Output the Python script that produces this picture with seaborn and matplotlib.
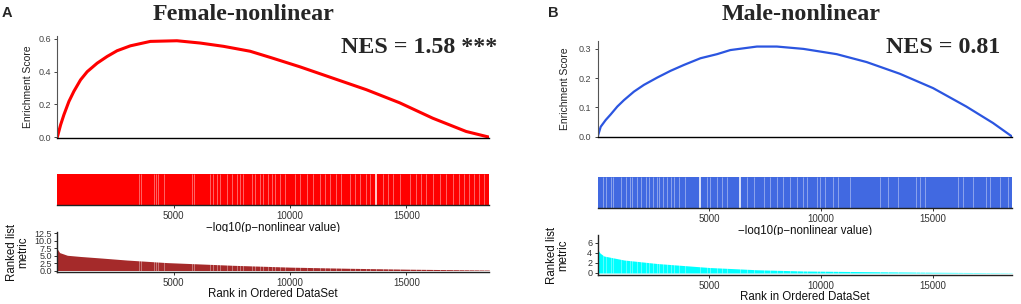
import numpy as np
import pandas as pd
import seaborn as sns
import matplotlib.pyplot as plt

# number of genes in the ranked list
n_genes = 18560

# running enrichment score (rank, ES)
female_es_rank = [0, 141, 284, 498, 712, 998, 1284, 1712, 2141, 2569, 3140, 3997, 5139,
                  6139, 7138, 8281, 9200, 10420, 11850, 13280, 14710, 16130, 17565, 18560]
female_es = [0, 0.075, 0.137, 0.218, 0.28, 0.35, 0.40, 0.452, 0.493, 0.528, 0.558, 0.585,
             0.589, 0.575, 0.555, 0.525, 0.485, 0.43, 0.36, 0.29, 0.21, 0.116, 0.035, 0.0]

male_es_rank = [0, 134, 357, 580, 878, 1176, 1622, 2068, 2664, 3259, 3854, 4598, 5342,
                5937, 7128, 8021, 9211, 10699, 12039, 13526, 15014, 16503, 17693, 18560]
male_es = [0, 0.034, 0.057, 0.076, 0.103, 0.125, 0.154, 0.177, 0.202, 0.225, 0.245, 0.268,
           0.282, 0.296, 0.308, 0.308, 0.3, 0.282, 0.255, 0.215, 0.166, 0.103, 0.047, 0.0]

# ranked list metric
female_metric_rank = [0, 100, 430, 1000, 1860, 3000, 4710, 7570, 10000, 12500, 15000, 18560]
female_metric = [7.2, 6.0, 5.1, 4.7, 4.2, 3.5, 2.65, 1.74, 1.13, 0.75, 0.45, 0.15]
male_metric_rank = [0, 100, 280, 1180, 2660, 5000, 7130, 9210, 12500, 15000, 18560]
male_metric = [4.7, 4.0, 3.4, 2.6, 1.9, 1.1, 0.65, 0.4, 0.25, 0.15, 0.05]

# ranks without hits (white lines in the barcode)
female_gaps = [3496, 3599, 4138, 4254, 4310, 4597, 5783, 5882, 6568, 6709, 6855, 6996,
               7283, 7497, 7711, 7853, 7994, 8354, 8495, 8710, 8851, 9065, 9211, 9352,
               9566, 9780, 10208, 10423, 10710, 10993, 11280, 11494, 11708, 11995,
               12209, 12567, 12781, 12995, 13280, 13422, 13992, 14206, 14420, 14707,
               15136, 15423, 15637, 15851, 16134, 16421, 16708, 16990, 17278, 17492,
               17706, 17920, 18134, 18348]
female_gaps_strong = [13709]
male_gaps = [253, 357, 610, 699, 1027, 1250, 1443, 1547, 1770, 1920, 2143, 2292, 2485,
             2634, 2738, 2932, 3080, 3259, 3408, 3631, 3928, 4896, 5044, 5343, 5566,
             5789, 6682, 6980, 7424, 7723, 8022, 8316, 8615, 8913, 9210, 9361, 9808,
             9955, 10178, 10550, 10773, 11294, 12633, 13005, 13450, 14271, 14419,
             14642, 16129, 16352, 16798, 17396, 17544, 17990, 18361]
male_gaps_strong = [4598, 6384]

x_ticks = [5000, 10000, 15000]

sns.set_style("ticks")
plt.rcParams['font.family'] = ['Liberation Sans', 'DejaVu Sans']

W, H = 1021, 304
fig = plt.figure(figsize=(W / 100, H / 100), dpi=100)


def ax_px(l, t, r, b):
    return fig.add_axes([l / W, 1 - b / H, (r - l) / W, (b - t) / H])


def draw_panel(x0, x1, tops, es_rank, es, es_top, es_ticks, line_col, line_w,
               bar_col, gaps, gaps_strong, m_rank, metric, m_lim, m_ticks, m_fmt, m_col,
               letter, letter_x, title, title_x, nes, nes_x, ylab_x, mlab_x):
    es_t, es_b, bar_t, bar_b, m_t, m_b = tops
    # enrichment score
    ax = ax_px(x0, es_t, x1, es_b)
    df = pd.DataFrame({'rank': es_rank, 'es': es})
    sns.lineplot(data=df, x='rank', y='es', color=line_col, lw=line_w, ax=ax)
    ax.set_xlim(0, n_genes)
    ax.set_ylim(-0.003 * es_top, es_top)
    ax.set_yticks(es_ticks)
    ax.set_yticklabels(['%.1f' % v for v in es_ticks])
    ax.set_xticks([])
    ax.set_xlabel('')
    ax.set_ylabel('')
    for s in ['top', 'right']:
        ax.spines[s].set_visible(False)
    ax.spines['left'].set_color('#555555')
    ax.spines['left'].set_linewidth(0.8)
    ax.spines['bottom'].set_color('black')
    ax.spines['bottom'].set_linewidth(1.0)
    ax.tick_params(axis='y', labelsize=6.5, colors='#444444', length=2.5, width=0.7, pad=2)
    fig.text(ylab_x / W, 1 - (es_t + es_b) / 2 / H, 'Enrichment Score', rotation=90,
             ha='center', va='center', fontsize=7.5, color='#222222')

    # barcode
    axb = ax_px(x0, bar_t, x1, bar_b)
    axb.fill_between([1, n_genes], 0, 1, color=bar_col, lw=0)
    axb.vlines(gaps, 0, 1, color='white', lw=0.6, alpha=0.45)
    axb.vlines(gaps_strong, 0, 1, color='white', lw=1.1, alpha=1)
    axb.set_xlim(0, n_genes)
    axb.set_ylim(0, 1)
    axb.set_yticks([])
    axb.set_xticks(x_ticks)
    axb.set_xticklabels([str(v) for v in x_ticks])
    for s in ['top', 'right', 'left']:
        axb.spines[s].set_visible(False)
    axb.spines['bottom'].set_color('#222222')
    axb.spines['bottom'].set_linewidth(1.0)
    axb.tick_params(axis='x', labelsize=7, colors='#333333', length=2.5, width=0.7, pad=2)
    axb.set_xlabel('\u2212log10(p\u2212nonlinear value)', fontsize=8.3, labelpad=0.5,
                   color='#111111')

    # ranked list metric
    axm = ax_px(x0, m_t, x1, m_b)
    axm.fill_between(m_rank, 0, metric, color=m_col, lw=0)
    axm.vlines(gaps + gaps_strong, 0, m_lim[1], color='white', lw=0.5, alpha=0.5)
    axm.set_xlim(0, n_genes)
    axm.set_ylim(*m_lim)
    axm.set_yticks(m_ticks)
    axm.set_yticklabels([m_fmt % v for v in m_ticks])
    axm.set_xticks(x_ticks)
    axm.set_xticklabels([str(v) for v in x_ticks])
    for s in ['top', 'right']:
        axm.spines[s].set_visible(False)
    for s in ['left', 'bottom']:
        axm.spines[s].set_color('#222222')
        axm.spines[s].set_linewidth(1.0)
    axm.tick_params(labelsize=7, colors='#333333', length=2.5, width=0.7, pad=1.5)
    axm.tick_params(axis='y', labelsize=6.5)
    axm.set_xlabel('Rank in Ordered DataSet', fontsize=8.3, labelpad=0.5, color='#111111')
    fig.text(mlab_x / W, 1 - (m_t + m_b) / 2 / H, 'Ranked list\nmetric', rotation=90,
             ha='center', va='center', fontsize=8.3, linespacing=0.95, color='#111111')

    # texts
    fig.text(letter_x / W, 1 - 13 / H, letter, fontsize=10.5, fontweight='bold',
             ha='left', va='center')
    fig.text(title_x / W, 1 - 15 / H, title, fontsize=17.3, fontweight='bold',
             family='Liberation Serif', ha='center', va='center')
    fig.text(nes_x / W, 1 - 53 / H, nes, fontsize=17.3, fontweight='bold',
             family='Liberation Serif', ha='right', va='baseline')


draw_panel(57.3, 489.3, (36, 137.5, 174, 205, 232, 272),
           female_es_rank, female_es, 0.618, [0, 0.2, 0.4, 0.6], '#FF0000', 2.2,
           '#FF0000', female_gaps, female_gaps_strong,
           female_metric_rank, female_metric, (-0.5, 12.9),
           [0.0, 2.5, 5.0, 7.5, 10.0, 12.5], '%.1f',
           '#A52A2A', 'A', 2, 'Female-nonlinear', 244, 'NES = 1.58 ***', 497, 28, 18)

draw_panel(597.7, 1012.3, (40.7, 137, 177.3, 207.7, 235, 275),
           male_es_rank, male_es, 0.328, [0, 0.1, 0.2, 0.3], '#2B55E0', 1.6,
           '#4169E1', male_gaps, male_gaps_strong,
           male_metric_rank, male_metric, (-0.4, 7.6), [0, 2, 4, 6], '%d',
           '#00FFFF', 'B', 548, 'Male-nonlinear', 801, 'NES = 0.81', 1000, 565, 558)

plt.savefig('out.png', dpi=100)
